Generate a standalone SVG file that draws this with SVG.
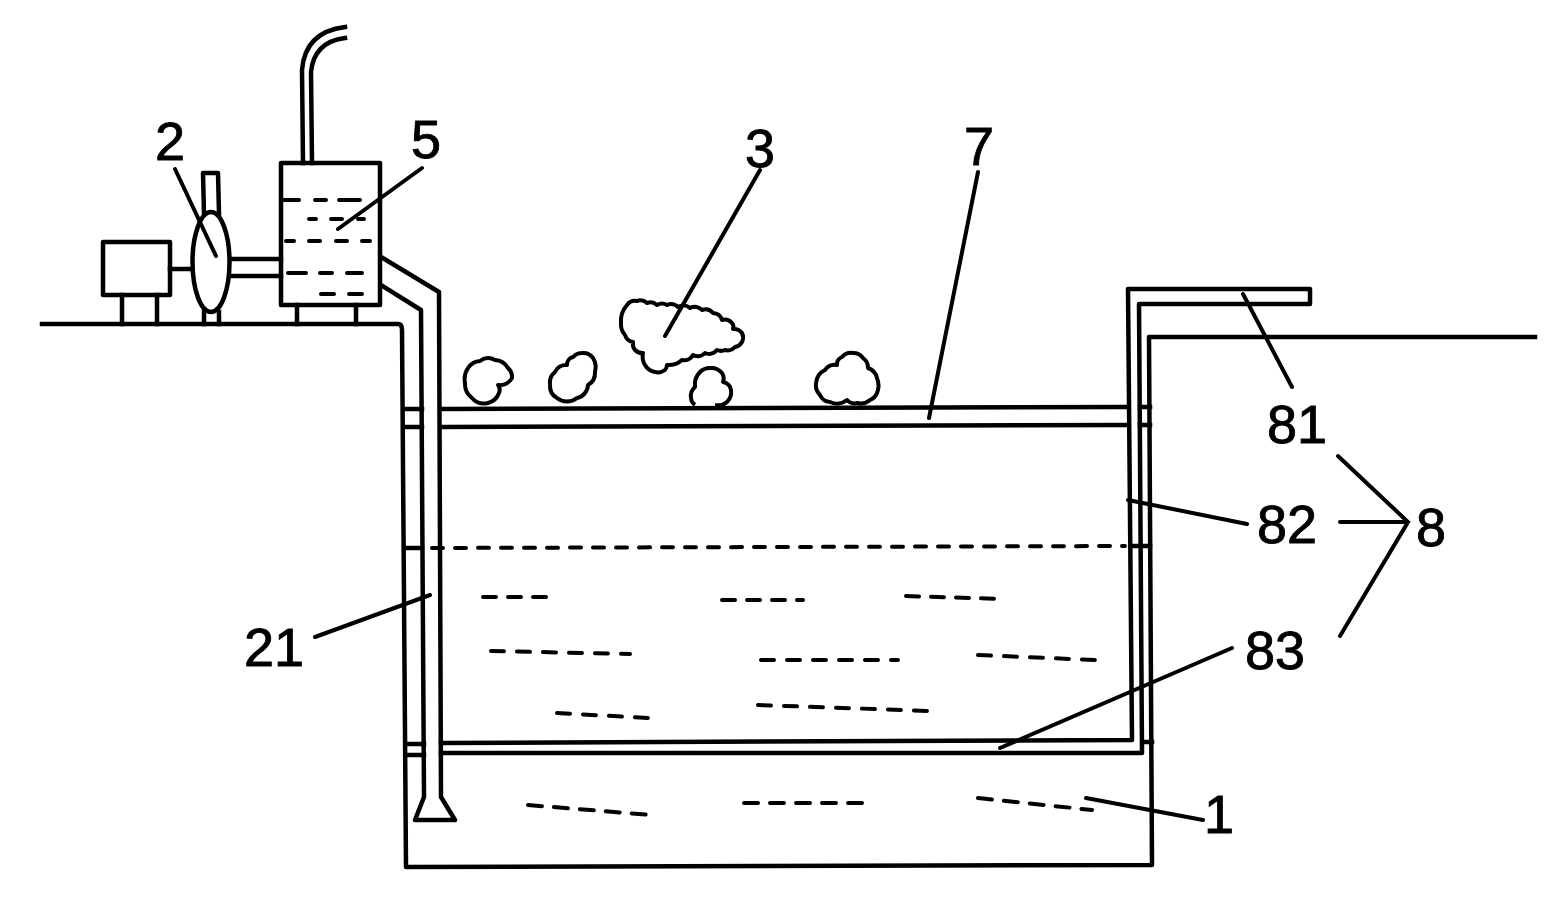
<svg xmlns="http://www.w3.org/2000/svg" width="1561" height="906" viewBox="0 0 1561 906">
<style>
.l{fill:none;stroke:#000;stroke-width:4.500;stroke-linejoin:round;stroke-linecap:square}
.c{fill:none;stroke:#000;stroke-width:4;stroke-linejoin:round}
.d{fill:none;stroke:#000;stroke-width:4;stroke-linecap:round}
.t{font-family:"Liberation Sans",Arial,sans-serif;font-size:54px;fill:#000;stroke:#000;stroke-width:.9px;text-anchor:middle}
</style>
<rect width="1561" height="906" fill="#fff"/>
<g id="pit">
<path class="l" d="M42 324H398Q402 324 402 330L406 867L1152 865L1149 337H1535"/>
<path class="l" d="M406 409H422M406 427H422M1140 407H1150M1140 425H1150M406 548H422M1131 546H1150M407 744H424M407 755H424M1143 742H1152"/>
</g>
<g id="water-1">
<path class="d" stroke-dasharray="11 12" d="M432 548L1125 546"/>
<path class="d" stroke-dasharray="13 12" d="M483 597H547M722 600H803M906 596L1003 599"/>
<path class="d" stroke-dasharray="13 13" d="M491 651L630 654M761 660H898M978 655L1095 660M557 713L648 718M758 705L930 711"/>
<path class="d" stroke-dasharray="14 12" d="M528 805L651 815M744 803H862M978 798L1092 810"/>
</g>
<g id="pump-2">
<ellipse class="l" cx="211" cy="262" rx="18.500" ry="50" fill="#fff"/>
<path class="l" d="M204 214L203 173H218L219 214M204 312V324M219 312V324"/>
<path class="l" d="M231 259H281M231 276H281"/>
</g>
<g id="motor">
<rect class="l" x="103" y="242" width="67" height="53"/>
<path class="l" d="M122 295V324M157 295V324M170 269H192"/>
</g>
<g id="tank-5">
<rect class="l" x="281" y="163" width="99" height="142"/>
<path class="l" d="M303 163L302 70Q305 32 345 27M312 163L311 72Q314 42 345 38"/>
<path class="l" d="M297 305V324M356 305V324"/>
<path class="d" d="M284 200H299M315 200H326M339 200H360M309 219H316M331 219H342M358 219H364M286 241H294M309 241H320M336 241H347M362 241H370M288 273H306M320 273H332M347 273H362M321 294H334M349 294H362"/>
</g>
<g id="pipe-21">
<path class="l" d="M381 257L439 292L441 797L455 820H415L424 797L421 310L381 285"/>
</g>
<g id="plate-7">
<path class="l" d="M441 409L1128 407M441 427L1128 425"/>
</g>
<g id="frame-8">
<path class="l" d="M441 743L1132 740L1128 289H1310V304H1139L1142 753H441"/>
</g>
<g id="debris-3">
<path class="c" d="M627 305A10 10 0 0 1 637 301A10 10 0 0 1 647 303A10 10 0 0 1 657 305A10 10 0 0 1 667 305A10 10 0 0 1 678 307A10 10 0 0 1 690 308A10 10 0 0 1 702 310A10 10 0 0 1 713 313A10 10 0 0 1 722 320A10 10 0 0 1 732 323A6 6 0 0 1 733 329A10 10 0 0 1 742 333A10 10 0 0 1 742 342A10 10 0 0 1 735 347A10 10 0 0 1 725 350A10 10 0 0 1 717 350A10 10 0 0 1 705 353A10 10 0 0 1 693 355A10 10 0 0 1 682 360A20 20 0 0 1 667 365A8 8 0 0 1 665 370A12 12 0 0 1 655 372A14 14 0 0 1 645 365A16 16 0 0 1 643 353A10 10 0 0 1 635 350A10 10 0 0 1 633 342A10 10 0 0 1 625 335A16 16 0 0 1 621 323A24 24 0 0 1 627 305Z"/>
<path class="c" d="M468 368A16 16 0 0 1 480 361A14 14 0 0 1 495 360A16 16 0 0 1 508 368A12 12 0 0 1 512 378A14 14 0 0 1 498 385A8 8 0 0 1 499 393A16 16 0 0 1 488 403A16 16 0 0 1 472 398A18 18 0 0 1 465 383A20 20 0 0 1 468 368Z"/>
<path class="c" d="M582 353A12 12 0 0 1 593 358A18 18 0 0 1 595 372A14 14 0 0 1 588 385A14 14 0 0 1 577 398A16 16 0 0 1 557 398A14 14 0 0 1 550 385A14 14 0 0 1 555 372A12 12 0 0 1 567 365A8 8 0 0 1 573 357A12 12 0 0 1 582 353Z"/>
<path class="c" d="M710 368A14 14 0 0 1 722 373A10 10 0 0 1 723 382A10 10 0 0 1 731 390A14 14 0 0 1 727 402A14 14 0 0 1 715 405M695 405A9 9 0 0 1 691 398A12 12 0 0 1 695 387A18 18 0 0 1 700 372A14 14 0 0 1 710 368"/>
<path class="c" d="M853 353A12 12 0 0 1 863 358A12 12 0 0 1 868 368A14 14 0 0 1 877 378A20 20 0 0 1 877 393A12 12 0 0 1 870 400A14 14 0 0 1 857 403A10 10 0 0 1 847 400A16 16 0 0 1 830 402A12 12 0 0 1 820 395A14 14 0 0 1 816 383A16 16 0 0 1 825 370A12 12 0 0 1 837 365A8 8 0 0 1 842 357A12 12 0 0 1 853 353Z"/>
</g>
<g id="connectors">
<path class="d" d="M175 169L216 256M422 168L338 229M760 170L665 336M978 172L929 418M1243 294L1292 387M1128 500L1247 524M1232 648L1000 748M1086 798L1203 820M315 637L430 595"/>
<path class="d" d="M1338 456L1408 522L1340 636M1340 522H1408"/>
</g>
<g id="labels">
<text class="t" x="170" y="160">2</text>
<text class="t" x="426" y="158">5</text>
<text class="t" x="760" y="167">3</text>
<text class="t" x="979" y="165">7</text>
<text class="t" x="1297" y="443">81</text>
<text class="t" x="1287" y="543">82</text>
<text class="t" x="1431" y="546">8</text>
<text class="t" x="1275" y="669">83</text>
<text class="t" x="1219" y="833">1</text>
<text class="t" x="274" y="666">21</text>
</g>
</svg>
